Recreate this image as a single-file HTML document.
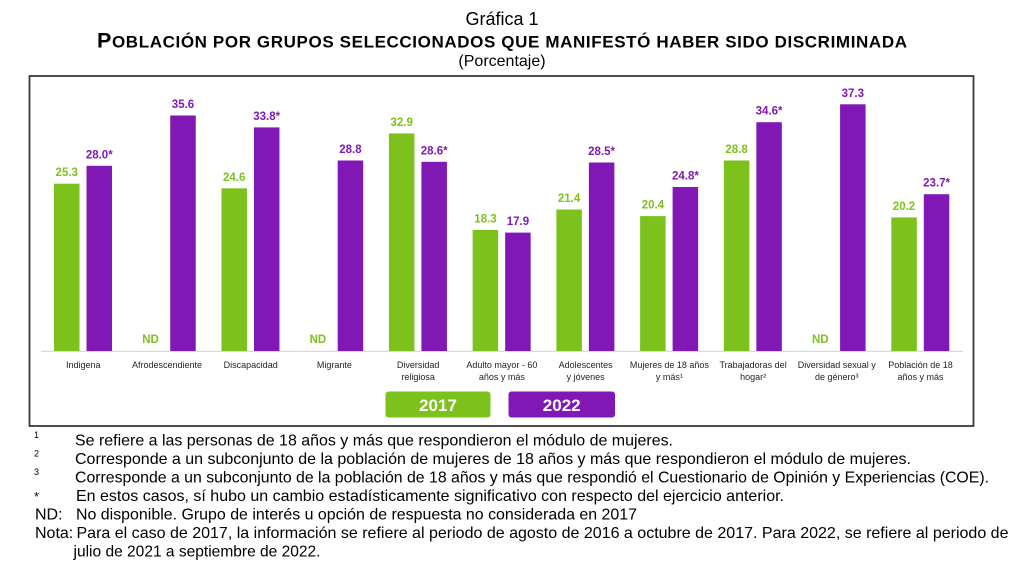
<!DOCTYPE html>
<html><head><meta charset="utf-8"><style>
html,body{margin:0;padding:0;background:#fff;width:1019px;height:572px;overflow:hidden}
svg{display:block}
</style></head><body>
<svg width="1019" height="572" viewBox="0 0 1019 572" xmlns="http://www.w3.org/2000/svg" font-family="Liberation Sans, Arial, sans-serif">
<rect width="1019" height="572" fill="#fff"/>
<!-- Titles -->
<text x="502" y="25" font-size="18" text-anchor="middle" fill="#000">Gráfica 1</text>
<text x="97" y="47.5" font-weight="bold" fill="#000" textLength="810" lengthAdjust="spacing"><tspan font-size="21.5">P</tspan><tspan font-size="17">OBLACIÓN POR GRUPOS SELECCIONADOS QUE MANIFESTÓ HABER SIDO DISCRIMINADA</tspan></text>
<text x="502" y="66" font-size="16" text-anchor="middle" fill="#000">(Porcentaje)</text>
<!-- Frame -->
<rect x="29.5" y="76" width="944" height="350" fill="none" stroke="#3a3a3a" stroke-width="1.8"/>
<!-- axis baseline -->
<line x1="41" y1="351.3" x2="963" y2="351.3" stroke="#d6d6d6" stroke-width="1.2"/>
<g fill="#7CC11C">
<rect x="54" y="183.7" width="25.5" height="167.3"/>
<rect x="221.46" y="188.3" width="25.5" height="162.7"/>
<rect x="388.92" y="133.4" width="25.5" height="217.6"/>
<rect x="472.65" y="230" width="25.5" height="121"/>
<rect x="556.38" y="209.5" width="25.5" height="141.5"/>
<rect x="640.11" y="216.1" width="25.5" height="134.9"/>
<rect x="723.84" y="160.5" width="25.5" height="190.5"/>
<rect x="891.3" y="217.4" width="25.5" height="133.6"/>
</g>
<g fill="#8118B6">
<rect x="86.5" y="165.8" width="25.5" height="185.2"/>
<rect x="170.23" y="115.5" width="25.5" height="235.5"/>
<rect x="253.96" y="127.4" width="25.5" height="223.6"/>
<rect x="337.69" y="160.5" width="25.5" height="190.5"/>
<rect x="421.42" y="161.8" width="25.5" height="189.2"/>
<rect x="505.15" y="232.6" width="25.5" height="118.4"/>
<rect x="588.88" y="162.5" width="25.5" height="188.5"/>
<rect x="672.61" y="187" width="25.5" height="164"/>
<rect x="756.34" y="122.2" width="25.5" height="228.8"/>
<rect x="840.07" y="104.3" width="25.5" height="246.7"/>
<rect x="923.8" y="194.2" width="25.5" height="156.8"/>
</g>
<!-- value labels green -->
<g fill="#7CC11C" font-size="11.5" font-weight="bold" text-anchor="middle">
<text x="66.75" y="176.2">25.3</text>
<text x="150.5" y="343">ND</text>
<text x="234.2" y="180.8">24.6</text>
<text x="317.9" y="343">ND</text>
<text x="401.7" y="125.9">32.9</text>
<text x="485.4" y="222.5">18.3</text>
<text x="569.1" y="202">21.4</text>
<text x="652.9" y="208.6">20.4</text>
<text x="736.6" y="153">28.8</text>
<text x="820.3" y="343">ND</text>
<text x="904" y="209.9">20.2</text>
</g>
<g fill="#8118B6" font-size="11.5" font-weight="bold" text-anchor="middle">
<text x="99.25" y="158.3">28.0*</text>
<text x="183" y="108">35.6</text>
<text x="266.7" y="119.9">33.8*</text>
<text x="350.4" y="153">28.8</text>
<text x="434.2" y="154.3">28.6*</text>
<text x="517.9" y="225.1">17.9</text>
<text x="601.6" y="155">28.5*</text>
<text x="685.4" y="179.5">24.8*</text>
<text x="769.1" y="114.7">34.6*</text>
<text x="852.8" y="96.8">37.3</text>
<text x="936.6" y="186.7">23.7*</text>
</g>
<!-- category labels -->
<g fill="#1f1f1f" font-size="9" text-anchor="middle">
<text x="83.25" y="368">Indigena</text>
<text x="167" y="368">Afrodescendiente</text>
<text x="250.7" y="368">Discapacidad</text>
<text x="334.4" y="368">Migrante</text>
<text x="418.2" y="368">Diversidad</text>
<text x="418.2" y="380">religiosa</text>
<text x="501.9" y="368">Adulto mayor - 60</text>
<text x="501.9" y="380">años y más</text>
<text x="585.6" y="368">Adolescentes</text>
<text x="585.6" y="380">y jóvenes</text>
<text x="669.4" y="368">Mujeres de 18 años</text>
<text x="669.4" y="380">y más¹</text>
<text x="753.1" y="368">Trabajadoras del</text>
<text x="753.1" y="380">hogar²</text>
<text x="836.8" y="368">Diversidad sexual y</text>
<text x="836.8" y="380">de género³</text>
<text x="920.5" y="368">Población de 18</text>
<text x="920.5" y="380">años y más</text>
</g>
<!-- legend -->
<rect x="385.5" y="391.5" width="105" height="26" rx="3" fill="#7CC11C"/>
<rect x="508.5" y="391.5" width="106.5" height="26" rx="3" fill="#8118B6"/>
<text x="438" y="411" font-size="17" font-weight="bold" fill="#fff" text-anchor="middle">2017</text>
<text x="561.7" y="411" font-size="17" font-weight="bold" fill="#fff" text-anchor="middle">2022</text>
<!-- footnotes -->
<g fill="#000" font-size="16">
<text x="34" y="438" font-size="9">1</text>
<text x="75" y="445.5" textLength="598" lengthAdjust="spacingAndGlyphs">Se refiere a las personas de 18 años y más que respondieron el módulo de mujeres.</text>
<text x="34" y="456.5" font-size="9">2</text>
<text x="75" y="464" textLength="836" lengthAdjust="spacingAndGlyphs">Corresponde a un subconjunto de la población de mujeres de 18 años y más que respondieron el módulo de mujeres.</text>
<text x="34" y="475" font-size="9">3</text>
<text x="75" y="482.5" textLength="914" lengthAdjust="spacingAndGlyphs">Corresponde a un subconjunto de la población de 18 años y más que respondió el Cuestionario de Opinión y Experiencias (COE).</text>
<text x="34" y="501" font-size="13">*</text>
<text x="76" y="501" textLength="708" lengthAdjust="spacingAndGlyphs">En estos casos, sí hubo un cambio estadísticamente significativo con respecto del ejercicio anterior.</text>
<text x="35" y="519.5">ND:</text>
<text x="76" y="519.5" textLength="561" lengthAdjust="spacingAndGlyphs">No disponible. Grupo de interés u opción de respuesta no considerada en 2017</text>
<text x="35" y="538">Nota:</text>
<text x="76.5" y="538" textLength="932" lengthAdjust="spacingAndGlyphs">Para el caso de 2017, la información se refiere al periodo de agosto de 2016 a octubre de 2017. Para 2022, se refiere al periodo de</text>
<text x="73.5" y="556.5" textLength="247" lengthAdjust="spacingAndGlyphs">julio de 2021 a septiembre de 2022.</text>
</g>
</svg>
</body></html>
